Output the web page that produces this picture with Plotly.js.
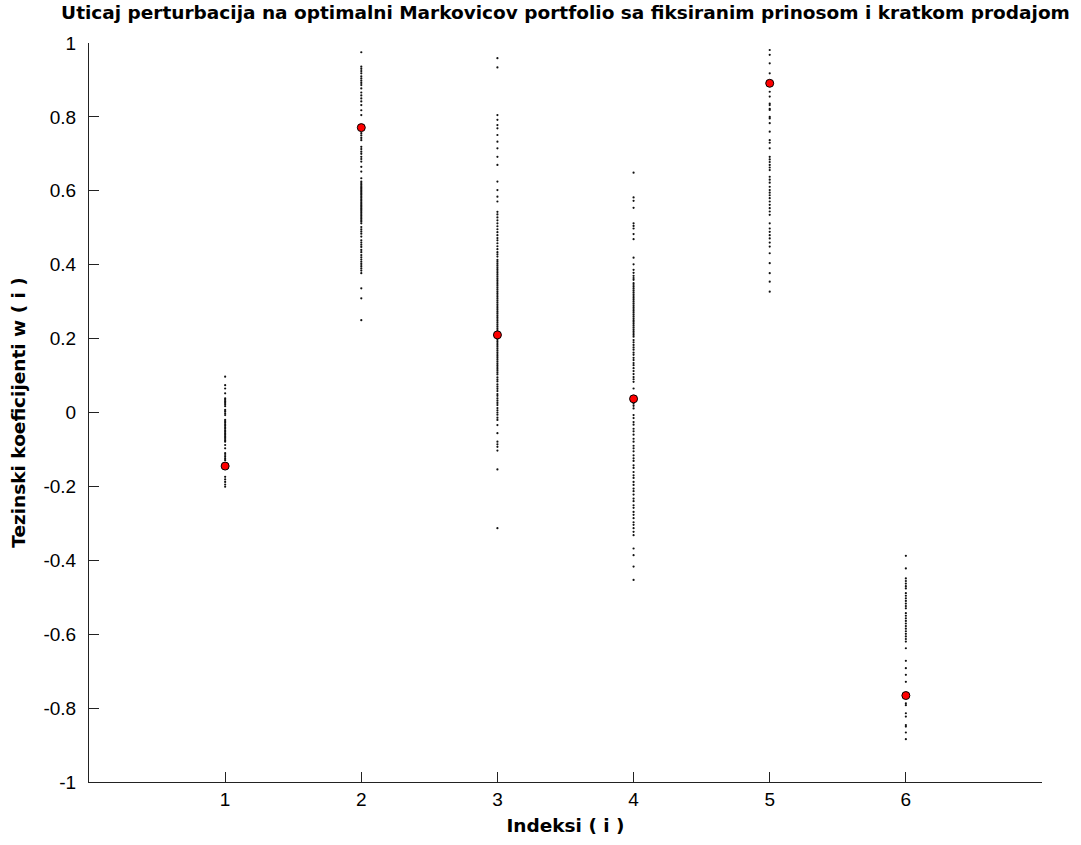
<!DOCTYPE html>
<html>
<head>
<meta charset="utf-8">
<script src="https://cdn.plot.ly/plotly-3.0.1.min.js"></script>
<style>html,body{margin:0;padding:0;background:#fff;}#chart{width:1081px;height:845px;}</style>
</head>
<body>
<div id="chart"></div>
<script>
// Perturbed portfolio weights per asset index
const w1 = [0.097, 0.074, 0.065, 0.052, 0.038, 0.034, 0.030, 0.026, 0.022, 0.017, 0.007, 0.003, -0.002, -0.007,
  -0.020, -0.024, -0.028, -0.032, -0.036, -0.040, -0.044, -0.048, -0.052, -0.056, -0.060, -0.064, -0.068, -0.072,
  -0.076, -0.079, -0.088, -0.097, -0.110, -0.115, -0.120, -0.125, -0.129, -0.174, -0.181, -0.188, -0.195, -0.201];
const w2 = [0.975, 0.936, 0.930, 0.924, 0.918, 0.910, 0.904, 0.898, 0.892, 0.886, 0.877, 0.866, 0.858, 0.850, 0.842,
  0.832, 0.818, 0.805, 0.756, 0.750, 0.743, 0.737, 0.719, 0.713, 0.706, 0.700, 0.692, 0.686, 0.679, 0.665, 0.652, 0.634,
  0.625, 0.621, 0.617, 0.613, 0.609, 0.605, 0.601, 0.597, 0.593, 0.589, 0.585, 0.581, 0.577, 0.573, 0.569, 0.565,
  0.561, 0.557, 0.553, 0.549, 0.545, 0.541, 0.537, 0.533, 0.529, 0.525, 0.521, 0.517, 0.512, 0.502, 0.496, 0.490,
  0.484, 0.476, 0.466, 0.460, 0.454, 0.448, 0.440, 0.434, 0.426, 0.420, 0.414, 0.408, 0.402, 0.396, 0.390, 0.384,
  0.377, 0.336, 0.309, 0.250];
const w3 = [0.959, 0.934, 0.805, 0.792, 0.778, 0.769, 0.751, 0.733, 0.715, 0.692, 0.670, 0.625, 0.602, 0.584, 0.571,
  0.543, 0.536, 0.528, 0.520, 0.512, 0.504, 0.496, 0.488, 0.480, 0.472, 0.466, 0.458, 0.450, 0.442, 0.434, 0.428, 0.422,
  0.413, 0.408, 0.403, 0.398, 0.393, 0.388, 0.383, 0.378, 0.373, 0.368, 0.363, 0.358, 0.353, 0.348, 0.343, 0.338,
  0.333, 0.328, 0.323, 0.318, 0.313, 0.308, 0.303, 0.298, 0.293, 0.288, 0.283, 0.278, 0.273, 0.268, 0.263, 0.258,
  0.253, 0.248, 0.243, 0.238, 0.233, 0.228, 0.223, 0.218, 0.213, 0.208, 0.203, 0.198, 0.193, 0.188, 0.183, 0.178,
  0.173, 0.168, 0.163, 0.158, 0.153, 0.148, 0.143, 0.138, 0.133, 0.128, 0.123, 0.118, 0.113, 0.108, 0.103,
  0.095, 0.089, 0.084, 0.076, 0.070, 0.064, 0.058, 0.050, 0.045, 0.038, 0.032, 0.026, 0.020, 0.012, 0.006, 0.000,
  -0.006, -0.014, -0.020, -0.034, -0.056, -0.079, -0.086, -0.093, -0.103, -0.154, -0.313];
const w4 = [0.649, 0.582, 0.573, 0.554, 0.512, 0.505, 0.498, 0.483, 0.469, 0.419, 0.401, 0.386, 0.378, 0.370, 0.364,
  0.359, 0.350, 0.345, 0.340, 0.335, 0.330, 0.325, 0.320, 0.315, 0.310, 0.305, 0.300, 0.295, 0.290, 0.285, 0.280,
  0.275, 0.270, 0.265, 0.260, 0.255, 0.250, 0.245, 0.240, 0.235, 0.230, 0.225, 0.220, 0.215, 0.210, 0.205,
  0.196, 0.190, 0.183, 0.176, 0.170, 0.162, 0.156, 0.148, 0.142, 0.134, 0.128, 0.120, 0.112, 0.104, 0.096, 0.090,
  0.083, 0.065, 0.030, 0.024, 0.018, 0.011, -0.007, -0.015, -0.026, -0.033, -0.044, -0.051, -0.060, -0.071, -0.079,
  -0.090, -0.097, -0.105, -0.116, -0.124, -0.131, -0.143, -0.150, -0.161, -0.170, -0.177, -0.188, -0.196, -0.206,
  -0.213, -0.222, -0.233, -0.240, -0.251, -0.258, -0.269, -0.277, -0.286, -0.297, -0.304, -0.313, -0.323, -0.332,
  -0.368, -0.386, -0.417, -0.453];
const w5 = [0.981, 0.968, 0.945, 0.918, 0.868, 0.855, 0.836, 0.832, 0.822, 0.819, 0.800, 0.796, 0.783, 0.760, 0.737,
  0.730, 0.715, 0.692, 0.685, 0.678, 0.670, 0.663, 0.656, 0.638, 0.630, 0.622, 0.611, 0.602, 0.595, 0.588, 0.580,
  0.571, 0.562, 0.553, 0.544, 0.535, 0.512, 0.498, 0.489, 0.480, 0.471, 0.460, 0.449, 0.431, 0.404, 0.377, 0.354, 0.327];
const w6 = [-0.388, -0.422, -0.449, -0.456, -0.463, -0.470, -0.476, -0.489, -0.496, -0.503, -0.510, -0.517, -0.524,
  -0.530, -0.543, -0.550, -0.557, -0.564, -0.571, -0.578, -0.585, -0.592, -0.599, -0.606, -0.613, -0.620, -0.638,
  -0.672, -0.692, -0.710, -0.729, -0.787, -0.792, -0.814, -0.823, -0.846, -0.850, -0.866, -0.884];
// Optimal (unperturbed) weights
const indices = [1, 2, 3, 4, 5, 6];
const optimal = [-0.145, 0.771, 0.210, 0.037, 0.891, -0.766];
// Tick labels
const xTicks = [1, 2, 3, 4, 5, 6];
const yTickVals = [1, 0.8, 0.6, 0.4, 0.2, 0, -0.2, -0.4, -0.6, -0.8, -1];
const yTickText = ['1', '0.8', '0.6', '0.4', '0.2', '0', '-0.2', '-0.4', '-0.6', '-0.8', '-1'];

const clouds = [w1, w2, w3, w4, w5, w6];
const dotX = [], dotY = [];
clouds.forEach((arr, i) => arr.forEach(v => { dotX.push(indices[i]); dotY.push(v); }));

const tickFont = 'Liberation Sans, Arial, Helvetica, sans-serif';
const boldFont = 'DejaVu Sans, Liberation Sans, Arial, sans-serif';
const traces = [
  { x: dotX, y: dotY, type: 'scatter', mode: 'markers', hoverinfo: 'skip',
    marker: { size: 2.2, color: '#111' } },
  { x: indices, y: optimal, type: 'scatter', mode: 'markers',
    marker: { size: 8, color: '#ff0000', line: { color: '#000', width: 1 } } }
];
const layout = {
  width: 1081, height: 845,
  margin: { l: 89, r: 39, t: 43, b: 63 },
  paper_bgcolor: '#fff', plot_bgcolor: '#fff',
  showlegend: false,
  font: { family: tickFont, size: 19, color: '#000' },
  title: { text: 'Uticaj perturbacija na optimalni Markovicov portfolio sa fiksiranim prinosom i kratkom prodajom',
    font: { family: boldFont, size: 18.5, color: '#000', weight: 'bold' },
    xref: 'paper', x: 0.5, xanchor: 'center', yref: 'container', y: 0.985, yanchor: 'middle' },
  xaxis: {
    range: [0, 7], tickvals: xTicks, ticktext: xTicks.map(String),
    ticks: 'inside', ticklen: 10, tickcolor: '#222', showgrid: false, zeroline: false,
    showline: true, linecolor: '#222', linewidth: 1, mirror: false,
    title: { text: 'Indeksi ( i )', font: { family: boldFont, size: 18.5, weight: 'bold' }, standoff: 10 }
  },
  yaxis: {
    range: [-1, 1], tickvals: yTickVals, ticktext: yTickText,
    ticks: 'inside', ticklen: 10, tickcolor: '#222', showgrid: false, zeroline: false,
    showline: true, linecolor: '#222', linewidth: 1, mirror: false, ticklabelstandoff: 8,
    title: { text: 'Tezinski koeficijenti w ( i )', font: { family: boldFont, size: 18.5, weight: 'bold' }, standoff: 12 }
  }
};
Plotly.newPlot('chart', traces, layout, { displayModeBar: false, staticPlot: true });
</script>
</body>
</html>
